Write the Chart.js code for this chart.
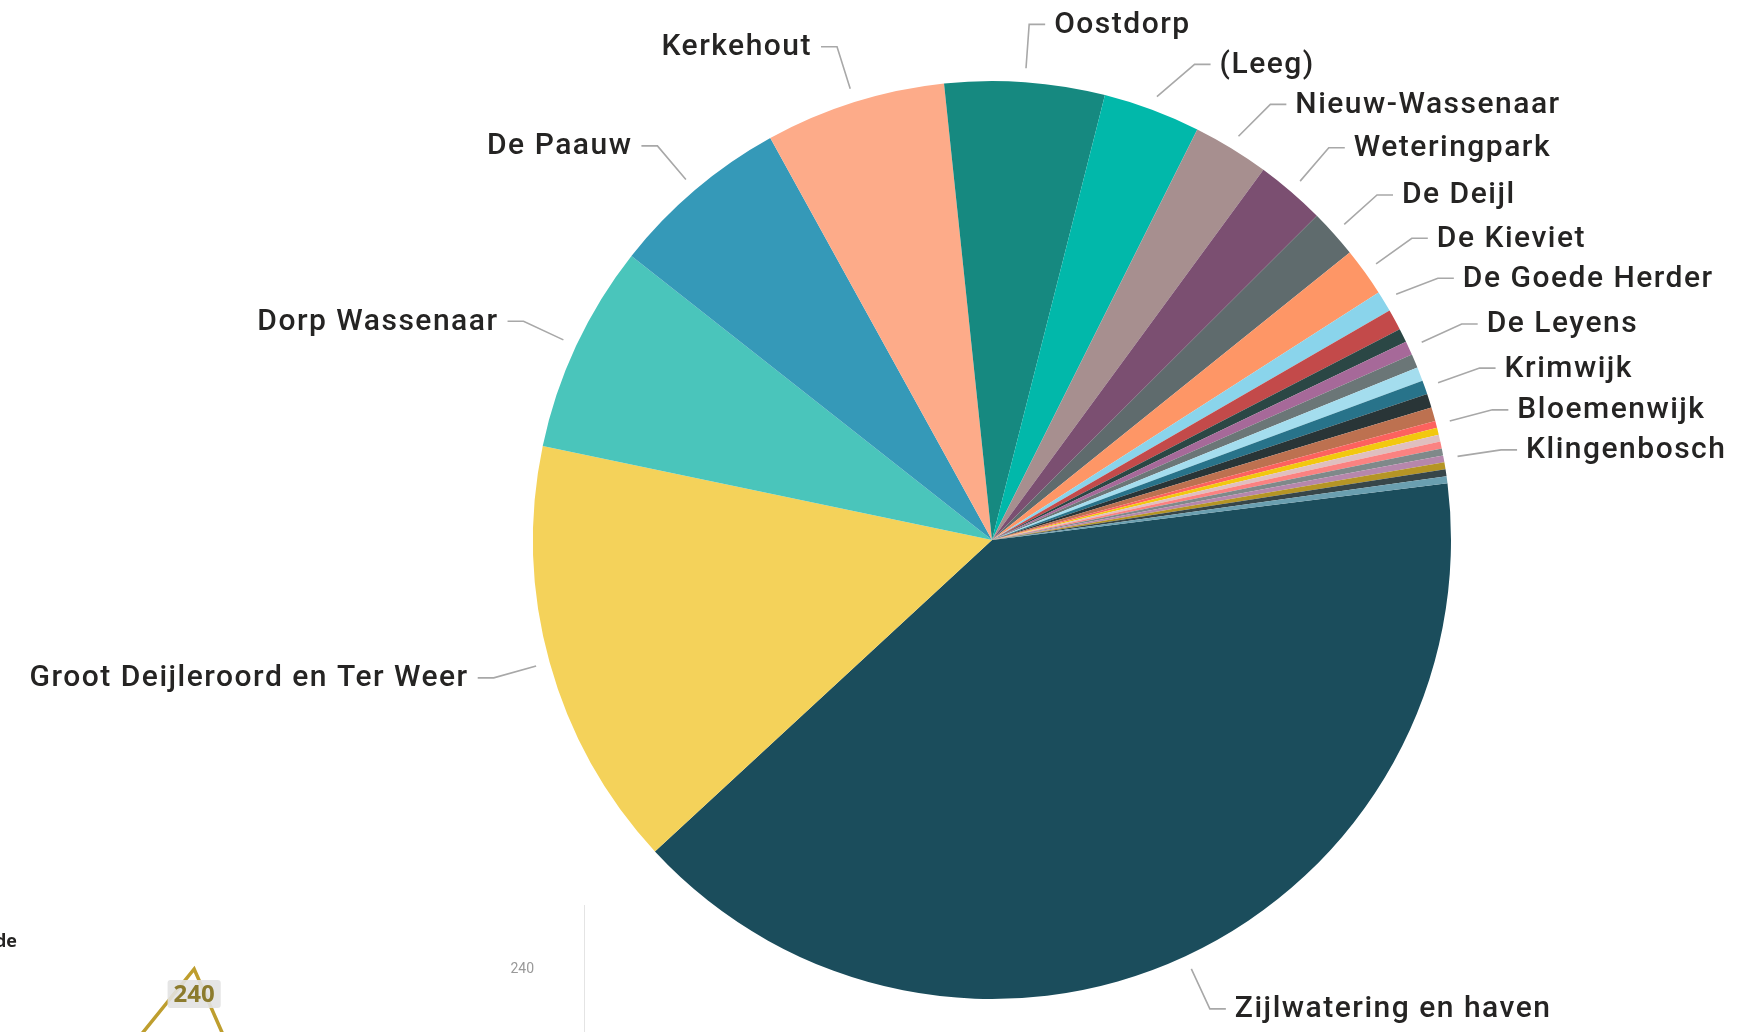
<!DOCTYPE html>
<html>
<head>
<meta charset="utf-8">
<title>Wijken</title>
<script src="https://cdn.jsdelivr.net/npm/chart.js@4.4.1/dist/chart.umd.min.js"></script>
<style>
  html, body { margin: 0; padding: 0; background: #fff; overflow: hidden; }
  #wrap { position: relative; width: 1759px; height: 1032px; overflow: hidden; }
  #pieBox { position: absolute; left: 0; top: 0; width: 1759px; height: 1032px; }
  #lineBox { position: absolute; left: 0; top: 900px; width: 584px; height: 500px; }
  #divider { position: absolute; left: 584px; top: 905px; width: 1px; height: 140px; background: #e4e4e4; }
  #lineTitle { position: absolute; left: -40px; top: 928px; width: 57px; text-align: right;
               font: bold 18px "Open Sans", sans-serif; color: #252423; }
</style>
</head>
<body>
<div id="wrap">
  <div id="pieBox"><canvas id="pieChart"></canvas></div>
  <div id="lineTitle">de</div>
  <div id="lineBox"><canvas id="trendChart"></canvas></div>
  <div id="divider"></div>
</div>
<script>
// slices in the order they are drawn (clockwise); '' = slice without a visible label
var districts = ['Zijlwatering en haven', 'Groot Deijleroord en Ter Weer', 'Dorp Wassenaar', 'De Paauw',
    'Kerkehout', 'Oostdorp', '(Leeg)', 'Nieuw-Wassenaar', 'Weteringpark', 'De Deijl', 'De Kieviet',
    'De Goede Herder', '', '', 'De Leyens', '', '', 'Krimwijk', '', '',
    'Bloemenwijk', '', '', '', '', 'Klingenbosch', '', '', ''];
var counts = [164, 62, 30, 26, 26, 23, 14, 11, 10, 7, 7,
    3, 3, 2, 2, 2, 2, 2, 2, 2,
    1, 1, 1, 1, 1, 1, 1, 1, 1];
var sliceColors = ['#1B4D5C', '#F4D25A', '#4AC5BB', '#3599B8', '#FDAB89', '#168980', '#01B8AA',
    '#A78F8F', '#7B4F71', '#5F6B6D', '#FE9666', '#8AD4EB', '#C34A4A', '#2B4745', '#A66999',
    '#6B7677', '#A4DDEE', '#28738A', '#293537', '#BD7150', '#FD625E', '#F2C80F', '#DFBFBF',
    '#FB8281', '#7F898A', '#B687AC', '#B59525', '#374649', '#6A9FB0'];

// small line visual in the lower left corner (only its peak is in view)
var trendLabels = ['', '', '', '', '', '', '', '', ''];
var trendValues = [null, null, 197, 240, 161, null, null, null, null];
var trendTicks = [240];

// labels outside the pie with leader lines, pushed down where they would overlap
var outsideLabels = {
    id: 'outsideLabels',
    afterDatasetsDraw: function (chart) {
        var ctx = chart.ctx;
        var meta = chart.getDatasetMeta(0);
        var names = chart.data.labels;
        var items = [];
        meta.data.forEach(function (arc, i) {
            if (!names[i]) return;
            var p = arc.getProps(['x', 'y', 'startAngle', 'endAngle', 'outerRadius'], true);
            var mid = (p.startAngle + p.endAngle) / 2;
            items.push({
                name: names[i], mid: mid, cx: p.x, cy: p.y, r: p.outerRadius,
                right: Math.cos(mid) >= 0,
                y: p.y + (p.outerRadius + 58) * Math.sin(mid)
            });
        });

        var gap = 40;
        [true, false].forEach(function (side) {
            var list = items.filter(function (d) { return d.right === side; });
            list.sort(function (a, b) { return a.y - b.y; });
            for (var j = 1; j < list.length; j++) {
                if (list[j].y - list[j - 1].y < gap) list[j].y = list[j - 1].y + gap;
            }
        });

        ctx.save();
        ctx.strokeStyle = '#a8a8a8';
        ctx.lineWidth = 1.6;
        ctx.fillStyle = '#252423';
        ctx.font = '500 30px Roboto';
        ctx.letterSpacing = '1.5px';
        ctx.textBaseline = 'middle';
        items.forEach(function (d) {
            var dir = d.right ? 1 : -1;
            var ax = d.cx + (d.r + 14) * Math.cos(d.mid);
            var ay = d.cy + (d.r + 14) * Math.sin(d.mid);
            var er = d.r + 58;
            var dy = d.y - d.cy;
            var ex = d.cx + dir * Math.sqrt(Math.max(0, er * er - dy * dy));
            ctx.beginPath();
            ctx.moveTo(ax, ay);
            ctx.lineTo(ex, d.y);
            ctx.lineTo(ex + dir * 16, d.y);
            ctx.stroke();
            ctx.textAlign = d.right ? 'left' : 'right';
            ctx.fillText(d.name, ex + dir * 25, d.y + 1);
        });
        ctx.restore();
    }
};

new Chart(document.getElementById('pieChart'), {
    type: 'pie',
    data: {
        labels: districts,
        datasets: [{
            data: counts,
            backgroundColor: sliceColors,
            borderWidth: 0
        }]
    },
    options: {
        responsive: true,
        maintainAspectRatio: false,
        animation: false,
        rotation: 82.9,
        layout: { padding: { top: 81, bottom: 33, left: 533, right: 308 } },
        plugins: { legend: { display: false }, tooltip: { enabled: false } }
    },
    plugins: [outsideLabels]
});

// data labels of the line visual
var pointLabels = {
    id: 'pointLabels',
    afterDatasetsDraw: function (chart) {
        var ctx = chart.ctx;
        var meta = chart.getDatasetMeta(0);
        var vals = chart.data.datasets[0].data;
        ctx.save();
        ctx.font = 'bold 24px "Open Sans"';
        ctx.textAlign = 'center';
        ctx.textBaseline = 'middle';
        meta.data.forEach(function (pt, i) {
            if (vals[i] == null) return;
            var txt = String(vals[i]);
            var w = ctx.measureText(txt).width + 12;
            var bx = pt.x - w / 2, by = pt.y + 11, h = 28;
            ctx.fillStyle = 'rgba(226,226,226,0.9)';
            ctx.beginPath();
            ctx.roundRect(bx, by, w, h, 3);
            ctx.fill();
            ctx.fillStyle = '#8C7B2D';
            ctx.fillText(txt, pt.x, by + h / 2 + 1);
        });
        ctx.restore();
    }
};

new Chart(document.getElementById('trendChart'), {
    type: 'line',
    data: {
        labels: trendLabels,
        datasets: [{
            data: trendValues,
            borderColor: '#BE9E2E',
            borderWidth: 3.5,
            pointRadius: 0,
            tension: 0,
            clip: false
        }]
    },
    options: {
        responsive: true,
        maintainAspectRatio: false,
        animation: false,
        layout: { padding: { top: 69, right: 42, left: 14, bottom: 0 } },
        scales: {
            x: { display: false },
            y: {
                position: 'right',
                min: 0,
                max: 240,
                grid: { display: false },
                border: { display: false },
                afterBuildTicks: function (axis) {
                    axis.ticks = trendTicks.map(function (v) { return { value: v }; });
                },
                ticks: { color: '#999', padding: 8, font: { family: 'Roboto', size: 14 } }
            }
        },
        plugins: { legend: { display: false }, tooltip: { enabled: false } }
    },
    plugins: [pointLabels]
});
</script>
</body>
</html>
